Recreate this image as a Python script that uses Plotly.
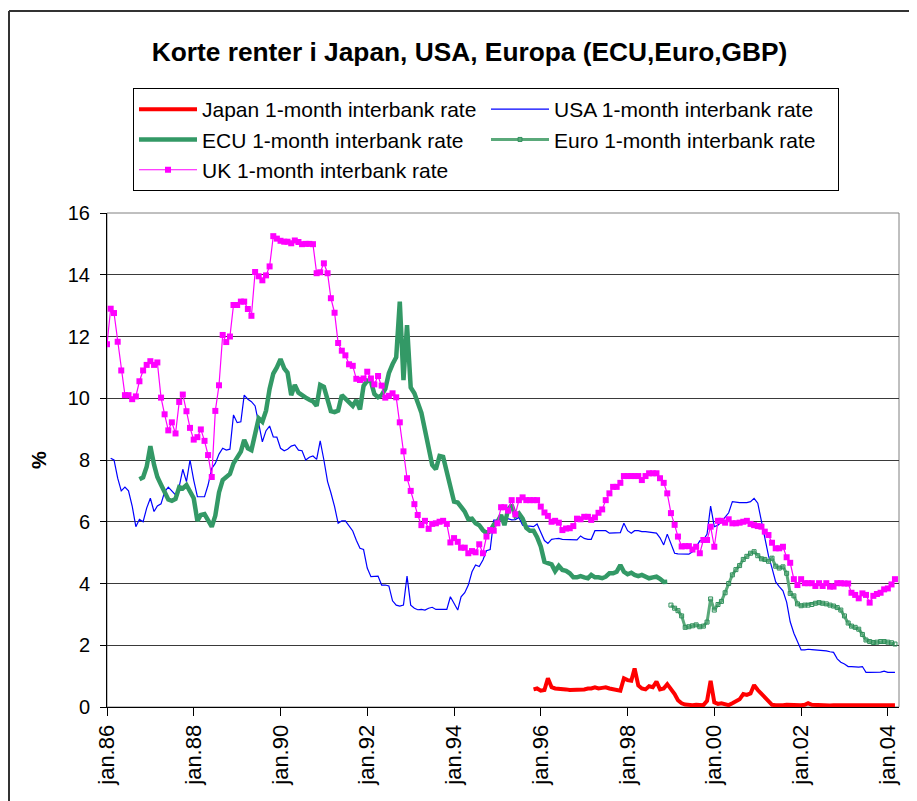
import plotly.graph_objects as go
import pandas as pd

# ---------------- data (monthly) ----------------
UK_START = "1986-01-01"
UK = [11.75, 12.90, 12.76, 11.83, 10.90, 10.10, 10.10, 9.97, 10.06, 10.55,
      10.90, 11.08, 11.20, 11.08, 11.16, 10.02, 9.48, 8.96, 9.22, 8.86,
      9.88, 10.12, 9.58, 9.04, 8.66, 8.74, 8.99, 8.62, 8.16, 7.45,
      9.59, 10.42, 12.05, 11.82, 12.00, 13.02, 13.02, 13.13, 13.13, 12.89,
      12.67, 14.09, 13.95, 13.82, 13.98, 14.27, 15.25, 15.17, 15.10, 15.07,
      15.07, 15.02, 15.11, 15.06, 14.99, 15.00, 15.00, 14.99, 14.05, 14.08,
      14.37, 14.05, 13.24, 12.77, 11.79, 11.54, 11.39, 11.10, 11.05, 10.63,
      10.59, 10.64, 10.86, 10.64, 10.45, 10.72, 10.41, 10.02, 10.08, 10.16,
      10.03, 9.22, 8.28, 7.41, 7.00, 6.57, 6.22, 5.89, 6.03, 5.77,
      5.93, 5.95, 6.00, 6.03, 5.93, 5.33, 5.47, 5.35, 5.16, 5.16,
      4.98, 5.05, 5.01, 5.27, 4.98, 5.52, 5.73, 5.71, 5.95, 6.47,
      6.47, 6.36, 6.70, 6.24, 6.70, 6.79, 6.70, 6.70, 6.70, 6.70,
      6.49, 6.30, 6.19, 6.00, 6.03, 5.97, 5.73, 5.78, 5.79, 5.86,
      6.10, 6.08, 6.16, 6.16, 6.06, 6.14, 6.29, 6.40, 6.70, 6.92,
      7.13, 7.13, 7.26, 7.48, 7.48, 7.48, 7.48, 7.48, 7.35, 7.48,
      7.57, 7.57, 7.57, 7.41, 7.26, 6.92, 6.28, 5.90, 5.52, 5.20,
      5.21, 5.21, 5.10, 5.19, 4.98, 5.41, 5.41, 5.84, 5.19, 6.03,
      6.03, 5.97, 6.08, 5.95, 5.95, 5.97, 6.00, 6.03, 5.93, 5.89,
      5.86, 5.84, 5.68, 5.57, 5.32, 5.14, 5.14, 5.19, 4.85, 4.67,
      4.14, 3.95, 4.14, 4.01, 4.01, 4.01, 3.92, 4.01, 3.92, 4.01,
      3.90, 3.90, 4.01, 4.01, 4.00, 4.00, 3.70, 3.63, 3.52, 3.68,
      3.63, 3.38, 3.60, 3.66, 3.70, 3.81, 3.84, 3.97, 4.14]

USA_START = "1986-02-01"
USA = [8.06, 8.00, 7.41, 7.00, 7.12, 7.00, 6.51, 5.84, 6.08, 6.00,
       6.44, 6.76, 6.33, 6.51, 6.58, 6.97, 7.12, 7.00, 6.87, 7.14,
       7.70, 7.30, 8.00, 7.35, 6.81, 6.81, 6.81, 7.19, 7.73, 7.89,
       8.19, 8.38, 8.32, 8.35, 9.46, 9.21, 9.24, 10.10, 9.97, 9.89,
       9.75, 9.19, 8.59, 8.95, 9.10, 8.75, 8.74, 8.38, 8.30, 8.35,
       8.45, 8.49, 8.32, 8.30, 8.00, 8.09, 8.13, 8.02, 8.62, 8.00,
       7.30, 6.94, 6.49, 5.95, 6.03, 6.03, 5.88, 5.70, 5.40, 5.14,
       5.10, 4.50, 4.22, 4.24, 4.24, 3.95, 3.95, 3.92, 3.44, 3.30,
       3.27, 3.30, 4.24, 3.30, 3.20, 3.15, 3.16, 3.14, 3.20, 3.23,
       3.16, 3.16, 3.16, 3.16, 3.57, 3.36, 3.14, 3.57, 3.70, 3.95,
       4.38, 4.60, 4.55, 4.76, 5.06, 5.10, 6.05, 6.05, 6.06, 6.14,
       6.11, 6.06, 6.07, 6.14, 5.89, 5.86, 5.86, 5.84, 5.93, 5.68,
       5.39, 5.30, 5.43, 5.45, 5.46, 5.43, 5.43, 5.43, 5.43, 5.41,
       5.54, 5.46, 5.43, 5.43, 5.71, 5.71, 5.71, 5.71, 5.63, 5.64,
       5.65, 5.65, 5.95, 5.71, 5.63, 5.71, 5.71, 5.68, 5.68, 5.66,
       5.65, 5.63, 5.48, 5.25, 5.60, 5.30, 4.98, 4.96, 4.96, 4.94,
       4.95, 5.03, 5.18, 5.38, 5.41, 5.60, 6.51, 5.84, 5.89, 6.00,
       6.16, 6.29, 6.65, 6.63, 6.62, 6.62, 6.62, 6.65, 6.76, 6.60,
       6.05, 5.50, 4.90, 4.50, 4.05, 3.90, 3.76, 3.40, 2.76, 2.39,
       2.12, 1.85, 1.85, 1.87, 1.86, 1.85, 1.85, 1.84, 1.82, 1.79,
       1.77, 1.56, 1.45, 1.39, 1.31, 1.31, 1.30, 1.29, 1.31, 1.12,
       1.12, 1.12, 1.12, 1.13, 1.16, 1.12, 1.12, 1.12]

ECU_START = "1986-10-01"
ECU = [7.38, 7.44, 7.78, 8.45, 7.85, 7.45, 7.20, 6.95, 6.72, 6.68,
       6.74, 7.12, 7.08, 7.19, 7.00, 6.76, 6.03, 6.22, 6.25, 6.08,
       5.84, 6.20, 6.95, 7.35, 7.46, 7.55, 7.89, 8.05, 8.27, 8.65,
       8.38, 8.32, 8.86, 9.35, 9.24, 9.60, 10.30, 10.80, 11.00, 11.27,
       10.97, 10.83, 10.10, 10.43, 10.18, 10.08, 10.02, 9.95, 9.90, 9.75,
       10.43, 10.37, 9.95, 9.58, 9.55, 9.60, 10.10, 9.97, 9.88, 9.75,
       9.94, 9.64, 10.40, 10.57, 10.54, 10.14, 10.03, 10.10, 10.30, 10.81,
       11.10, 11.33, 13.13, 10.59, 12.37, 10.35, 10.16, 9.84, 9.53, 8.97,
       8.38, 7.84, 7.70, 8.13, 8.10, 7.57, 7.03, 6.65, 6.62, 6.49,
       6.33, 6.08, 6.10, 5.95, 5.89, 5.73, 5.63, 5.70, 5.90, 6.00,
       6.22, 5.89, 6.40, 6.54, 6.19, 6.27, 6.10, 5.80, 5.71, 5.71,
       5.50, 5.20, 4.70, 4.66, 4.62, 4.40, 4.57, 4.44, 4.41, 4.33,
       4.20, 4.20, 4.24, 4.20, 4.17, 4.28, 4.20, 4.20, 4.17, 4.22,
       4.33, 4.33, 4.38, 4.60, 4.38, 4.30, 4.35, 4.28, 4.24, 4.28,
       4.22, 4.17, 4.20, 4.22, 4.15, 4.05, 4.06]

EURO_START = "1999-01-01"
EURO = [3.30, 3.20, 3.12, 2.95, 2.58, 2.60, 2.63, 2.66, 2.60, 2.62,
        2.75, 3.50, 3.14, 3.32, 3.42, 3.70, 4.00, 4.28, 4.45, 4.58,
        4.78, 4.88, 4.98, 5.03, 4.90, 4.80, 4.78, 4.72, 4.82, 4.56,
        4.50, 4.54, 4.33, 3.68, 3.60, 3.34, 3.28, 3.30, 3.30, 3.32,
        3.36, 3.38, 3.36, 3.34, 3.30, 3.27, 3.22, 3.14, 2.95, 2.72,
        2.62, 2.58, 2.52, 2.35, 2.17, 2.12, 2.09, 2.10, 2.12, 2.12,
        2.10, 2.08, 2.04]

JAPAN_START = "1995-11-01"
JAPAN = [0.57, 0.60, 0.53, 0.55, 0.93, 0.64, 0.60, 0.60, 0.58, 0.57,
         0.55, 0.55, 0.55, 0.56, 0.57, 0.60, 0.60, 0.64, 0.60, 0.62,
         0.64, 0.60, 0.57, 0.55, 0.53, 0.93, 0.87, 0.85, 1.25, 0.70,
         0.60, 0.57, 0.67, 0.64, 0.82, 0.57, 0.60, 0.74, 0.60, 0.42,
         0.22, 0.12, 0.08, 0.06, 0.06, 0.07, 0.06, 0.06, 0.20, 0.85,
         0.15, 0.10, 0.12, 0.10, 0.06, 0.12, 0.17, 0.25, 0.42, 0.39,
         0.44, 0.71, 0.55, 0.42, 0.30, 0.20, 0.07, 0.06, 0.05, 0.06,
         0.07, 0.06, 0.06, 0.07, 0.06, 0.07, 0.12, 0.07, 0.06, 0.06,
         0.07, 0.06, 0.05, 0.06, 0.06, 0.07, 0.06, 0.05, 0.06, 0.06,
         0.06, 0.05, 0.06, 0.06, 0.05, 0.06, 0.06, 0.05, 0.06, 0.06,
         0.06]

TICK_YEARS = list(range(1986, 2005, 2))
TICK_TEXT = ["jan.%02d" % (y % 100) for y in TICK_YEARS]
TITLE = "Korte renter i Japan, USA, Europa (ECU,Euro,GBP)"


def months(start, n):
    return pd.date_range(start, periods=n, freq="MS")


# ---------------- geometry (page pixels; the page body has an 8 px margin) ----------------
OFF = 8
PAGE_W, PAGE_H = 917, 801
W, H = PAGE_W - OFF, PAGE_H - OFF
PLOT_L, PLOT_R, PLOT_T, PLOT_B = 107, 899, 213, 707     # page coordinates of plot area
L, R, T, B = PLOT_L - OFF, PAGE_W - PLOT_R, PLOT_T - OFF, PAGE_H - PLOT_B
PW, PH = W - L - R, H - T - B


def px(x):   # page x -> paper x
    return (x - PLOT_L) / PW


def py(y):   # page y -> paper y
    return (PLOT_B - y) / PH


fig = go.Figure()
fig.add_trace(go.Scatter(x=months(JAPAN_START, len(JAPAN)), y=JAPAN,
                         name="Japan 1-month interbank rate", mode="lines",
                         line=dict(color="#FF0000", width=4)))
fig.add_trace(go.Scatter(x=months(USA_START, len(USA)), y=USA,
                         name="USA 1-month interbank rate", mode="lines",
                         line=dict(color="#0000FF", width=1.2)))
fig.add_trace(go.Scatter(x=months(ECU_START, len(ECU)), y=ECU,
                         name="ECU 1-month interbank rate", mode="lines",
                         line=dict(color="#339966", width=4.5)))
fig.add_trace(go.Scatter(x=months(EURO_START, len(EURO)), y=EURO,
                         name="Euro 1-month interbank rate", mode="lines+markers",
                         line=dict(color="#5aa97a", width=3),
                         marker=dict(symbol="square-open", size=4, color="#2f8f5b",
                                     line=dict(width=1, color="#2f8f5b"))))
fig.add_trace(go.Scatter(x=months(UK_START, len(UK)), y=UK,
                         name="UK 1-month interbank rate", mode="lines+markers",
                         line=dict(color="#FF00FF", width=1.2),
                         marker=dict(symbol="square", size=6, color="#FF00FF")))

fig.update_layout(
    width=W, height=H,
    margin=dict(l=L, r=R, t=T, b=B, autoexpand=False),
    paper_bgcolor="white", plot_bgcolor="white",
    font=dict(family="Liberation Sans, Arial, sans-serif", color="black"),
    title=dict(text="<b>%s</b>" % TITLE, x=(469.5 - OFF) / W, xanchor="center",
               y=1 - (52 - OFF) / H, yanchor="middle",
               font=dict(size=26.3, color="black")),
    legend=dict(orientation="h", x=px(133), y=py(88), xanchor="left", yanchor="top",
                bordercolor="black", borderwidth=1, bgcolor="white",
                font=dict(size=21, color="black"), entrywidth=279, itemwidth=58,
                traceorder="normal"),
    xaxis=dict(type="date", range=["1986-01-01", "2004-04-04"],
               tickmode="array",
               tickvals=["%d-01-01" % y for y in TICK_YEARS], ticktext=TICK_TEXT,
               tickangle=-90, ticks="outside", ticklen=8, tickcolor="black",
               showline=True, linecolor="black", linewidth=1, showgrid=False,
               zeroline=False, tickfont=dict(size=22, color="black")),
    yaxis=dict(range=[0, 16], tick0=0, dtick=2, ticks="outside", ticklen=6,
               tickcolor="black", showline=True, linecolor="black", linewidth=1,
               showgrid=True, gridcolor="#3a3a3a", gridwidth=1, zeroline=False,
               tickfont=dict(size=20, color="black"), ticklabelstandoff=6),
    annotations=[dict(text="<b>%</b>", x=px(39), y=py(460), xref="paper", yref="paper",
                      xanchor="center", yanchor="middle",
                      showarrow=False, textangle=-90, font=dict(size=20, color="black"))],
    shapes=[
        dict(type="rect", xref="paper", yref="paper", x0=0, x1=1, y0=0, y1=1,
             line=dict(color="#808080", width=1), layer="below"),
        dict(type="line", xref="paper", yref="paper", x0=px(9), x1=px(PAGE_W),
             y0=py(11), y1=py(11), line=dict(color="#333333", width=2)),
        dict(type="line", xref="paper", yref="paper", x0=px(9), x1=px(9),
             y0=py(11), y1=py(PAGE_H), line=dict(color="#333333", width=2)),
    ],
)

fig.write_html("out.html")
